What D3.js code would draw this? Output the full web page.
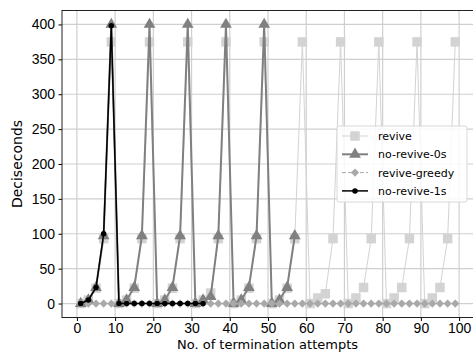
<!DOCTYPE html>
<html lang="en">
<head>
    <meta charset="UTF-8">
    <title>Termination attempts</title>
    <script src="https://d3js.org/d3.v7.min.js"></script>
    <style>
        body { margin: 0; background: white; }
        svg { display: block; font-family: "DejaVu Sans", sans-serif; }
        .tick text { font-size: 14px; fill: black; }
    </style>
</head>
<body>
    <svg width="473" height="352"></svg>

    <script>
        // attempt numbers (odd values 1..99)
        const attempts = d3.range(1, 100, 2);

        const revive = [
            0, 5, 22, 93, 375,   0, 5, 22, 93, 375,
            0, 5, 22, 93, 375,   0, 5, 15, 93, 375,
            0, 5, 22, 93, 375,   0, 5, 22, 93, 375,
            0, 8, 14, 93, 375,   0, 8, 23, 93, 375,
            0, 8, 23, 93, 375,   0, 8, 23, 93, 375
        ];
        const noRevive0s = [
            0, 5, 23, 97, 400,   0, 5, 23, 97, 400,
            0, 5, 23, 97, 400,   0, 5, 10, 97, 400,
            0, 5, 23, 97, 400,   0, 5, 23, 97
        ];
        const reviveGreedy = attempts.map(() => 0);
        const noRevive1s = [0, 5, 23, 100, 398, 0, 0, 0, 0, 0, 0, 0, 0, 0, 0, 0, 0];

        const xTicks = d3.range(0, 101, 10);
        const yTicks = d3.range(0, 401, 50);

        const series = [
            { name: "revive", values: revive, color: "#d3d3d3", width: 1, dash: null, marker: "square" },
            { name: "no-revive-0s", values: noRevive0s, color: "#808080", width: 2, dash: null, marker: "triangle" },
            { name: "revive-greedy", values: reviveGreedy, color: "#a9a9a9", width: 1, dash: "4,2", marker: "diamond" },
            { name: "no-revive-1s", values: noRevive1s, color: "black", width: 1.5, dash: null, marker: "circle" }
        ];

        const svg = d3.select("svg");
        const plotLeft = 62, plotRight = 474, plotTop = 10.5, plotBottom = 317.5;

        const x = d3.scaleLinear().domain([-3.9, 103.9]).range([plotLeft, plotRight]);
        const y = d3.scaleLinear().domain([-20, 420]).range([plotBottom, plotTop]);

        // grid
        svg.append("g").selectAll("line").data(xTicks).join("line")
            .attr("x1", d => x(d)).attr("x2", d => x(d))
            .attr("y1", plotTop).attr("y2", plotBottom)
            .attr("stroke", "#cfcfcf").attr("stroke-width", 1.2);
        svg.append("g").selectAll("line").data(yTicks).join("line")
            .attr("x1", plotLeft).attr("x2", plotRight)
            .attr("y1", d => y(d)).attr("y2", d => y(d))
            .attr("stroke", "#cfcfcf").attr("stroke-width", 1.2);

        // matplotlib-like square diamond (rotated square)
        const squareDiamond = {
            draw(ctx, size) {
                const r = Math.sqrt(size / 2);
                ctx.moveTo(0, -r); ctx.lineTo(r, 0); ctx.lineTo(0, r); ctx.lineTo(-r, 0); ctx.closePath();
            }
        };

        const symbols = {
            square: d3.symbol(d3.symbolSquare, 90),
            triangle: d3.symbol(d3.symbolTriangle, 60),
            diamond: d3.symbol(squareDiamond, 34),
            circle: d3.symbol(d3.symbolCircle, 24)
        };

        const line = d3.line().x(d => x(d[0])).y(d => y(d[1]));

        series.forEach(s => {
            const pts = s.values.map((v, i) => [attempts[i], v]);
            const g = svg.append("g");
            g.append("path")
                .attr("d", line(pts))
                .attr("fill", "none")
                .attr("stroke", s.color)
                .attr("stroke-width", s.width)
                .attr("stroke-dasharray", s.dash);
            g.selectAll("path.m").data(pts).join("path")
                .attr("class", "m")
                .attr("transform", d => `translate(${x(d[0])},${y(d[1])})`)
                .attr("d", symbols[s.marker]())
                .attr("fill", s.color);
        });

        // axes
        svg.append("g")
            .attr("transform", `translate(0,${plotBottom})`)
            .call(d3.axisBottom(x).tickValues(xTicks).tickSize(3.5).tickPadding(2))
            .call(g => g.select(".domain").remove());
        svg.append("g")
            .attr("transform", `translate(${plotLeft},0)`)
            .call(d3.axisLeft(y).tickValues(yTicks).tickSize(3.5).tickPadding(3.5))
            .call(g => g.select(".domain").remove());

        svg.append("rect")
            .attr("x", plotLeft).attr("y", plotTop)
            .attr("width", plotRight - plotLeft).attr("height", plotBottom - plotTop)
            .attr("fill", "none").attr("stroke", "#222").attr("stroke-width", 1);

        svg.append("text")
            .attr("x", (plotLeft + 473) / 2).attr("y", 349)
            .attr("text-anchor", "middle")
            .attr("font-size", 13)
            .text("No. of termination attempts");

        svg.append("text")
            .attr("transform", `translate(22,${(plotTop + plotBottom) / 2}) rotate(-90)`)
            .attr("text-anchor", "middle")
            .attr("font-size", 14)
            .text("Deciseconds");

        // legend
        const legend = svg.append("g").attr("transform", "translate(337,126)");
        legend.append("rect")
            .attr("width", 130).attr("height", 76).attr("rx", 2)
            .attr("fill", "white").attr("fill-opacity", 0.85)
            .attr("stroke", "#d8d8d8");
        series.forEach((s, i) => {
            const ly = 10 + i * 18.3;
            const item = legend.append("g").attr("transform", `translate(0,${ly})`);
            item.append("line")
                .attr("x1", 5).attr("x2", 31)
                .attr("stroke", s.color).attr("stroke-width", s.width)
                .attr("stroke-dasharray", s.dash);
            item.append("path")
                .attr("transform", "translate(18,0)")
                .attr("d", symbols[s.marker]())
                .attr("fill", s.color);
            item.append("text")
                .attr("x", 41).attr("y", 4)
                .attr("font-size", 11)
                .text(s.name);
        });
    </script>
</body>
</html>
